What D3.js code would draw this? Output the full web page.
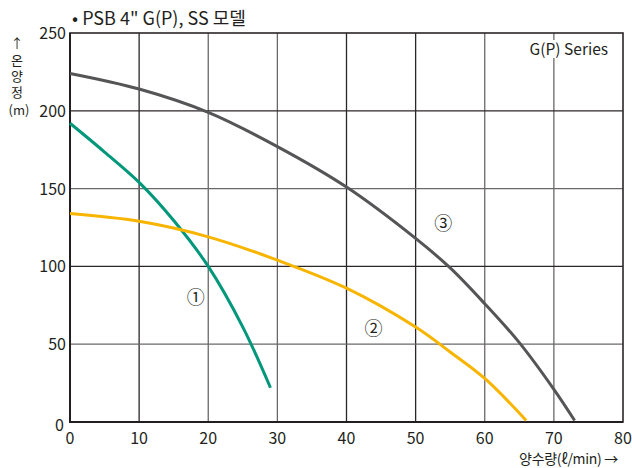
<!DOCTYPE html>
<html><head><meta charset="utf-8">
<script src="https://cdn.jsdelivr.net/npm/d3@7/dist/d3.min.js"></script>
<style>
body{margin:0;background:#fff;}
text{font-family:"Noto Sans CJK KR","Noto Sans",sans-serif;fill:#231f20;}
.vert{writing-mode:vertical-rl;text-orientation:upright;}
</style></head>
<body>
<svg id="chart" width="632" height="468"></svg>
<script>
const xTicks = [0,10,20,30,40,50,60,70,80];
const yTicks = [0,50,100,150,200,250];
const curve1 = [[0,192],[5,173.5],[10,154],[15,129.5],[20,100],[25,61],[29,22]];
const curve2 = [[0,134],[10,129],[20,119],[30,104],[40,86],[50,61],[55,45],[60,28],[66,1]];
const curve3 = [[0,224],[10,214],[20,199],[30,177],[40,151],[50,118],[55,99],[60,76],[65,51],[70,21],[73,1]];
const seriesColors = ["#00977a","#f7b500","#555557"];
const seriesLabels = ["①","②","③"];
const labelPos = [[18.2,80],[43.9,60],[54,127]];
const title = "• PSB 4\" G(P), SS 모델";
const seriesName = "G(P) Series";
const xLabel = "양수량(ℓ/min) →";
const yLabelMain = "↑온양정";
const yLabelUnit = "(m)";

const svg = d3.select("#chart");
const L=70,R=623,T=33,B=422;
const x = d3.scaleLinear().domain([0,80]).range([L,R]);
const y = d3.scaleLinear().domain([0,250]).range([B,T]);

// grid
const g = svg.append("g");
g.selectAll(".vx").data(xTicks.filter(d=>d>0&&d<80)).join("line")
 .attr("x1",d=>x(d)).attr("x2",d=>x(d)).attr("y1",T).attr("y2",B)
 .attr("stroke",(d,i)=>[10,40,50].includes(d)?"#2b2627":"#6b6869").attr("stroke-width",1.3);
g.selectAll(".hy").data(yTicks.filter(d=>d>0&&d<250)).join("line")
 .attr("y1",d=>y(d)).attr("y2",d=>y(d)).attr("x1",L).attr("x2",R)
 .attr("stroke",d=>[100,200].includes(d)?"#2b2627":"#6b6869").attr("stroke-width",1.3);

// series name with white background
svg.append("rect").attr("x",528).attr("y",40).attr("width",82).attr("height",18).attr("fill","#fff");
svg.append("text").attr("x",608).attr("y",55).attr("text-anchor","end").attr("font-size",15.5).text(seriesName);

// frame
svg.append("rect").attr("x",L).attr("y",T).attr("width",R-L).attr("height",B-T)
 .attr("fill","none").attr("stroke","#2b2627").attr("stroke-width",1.6);
svg.append("line").attr("x1",L).attr("x2",L).attr("y1",T).attr("y2",B+1).attr("stroke","#231f20").attr("stroke-width",2);
svg.append("line").attr("x1",L).attr("x2",R).attr("y1",B).attr("y2",B).attr("stroke","#231f20").attr("stroke-width",2);

// axes labels
svg.selectAll(".yt").data(yTicks.filter(d=>d>0)).join("text")
 .attr("x",66).attr("y",d=>y(d)+6).attr("text-anchor","end").attr("font-size",16).text(d=>d);
svg.append("text").attr("x",64).attr("y",431).attr("text-anchor","end").attr("font-size",16).text("0");
svg.selectAll(".xt").data(xTicks).join("text")
 .attr("x",d=>x(d)).attr("y",444).attr("text-anchor","middle").attr("font-size",16).text(d=>d);

// curves
const line = d3.line().x(d=>x(d[0])).y(d=>y(d[1])).curve(d3.curveCatmullRom.alpha(0.5));
[curve1,curve2,curve3].forEach((c,i)=>{
  svg.append("path").attr("d",line(c)).attr("fill","none")
   .attr("stroke",seriesColors[i]).attr("stroke-width",3);
});
svg.selectAll(".sl").data(seriesLabels).join("text")
 .attr("x",(d,i)=>x(labelPos[i][0])).attr("y",(d,i)=>y(labelPos[i][1])+6)
 .attr("text-anchor","middle").attr("font-size",18).text(d=>d);

// title
svg.append("text").attr("x",72).attr("y",25).attr("font-size",18).text(title);
// x label
svg.append("text").attr("x",618).attr("y",464).attr("text-anchor","end").attr("font-size",14).attr("letter-spacing",-0.3).text(xLabel);
// y label: vertical stacked text
svg.append("text").attr("class","vert").attr("x",17).attr("y",37).attr("font-size",13).attr("letter-spacing",3.2).text(yLabelMain);
svg.append("text").attr("x",19).attr("y",115).attr("text-anchor","middle").attr("font-size",13).text(yLabelUnit);
</script>
</body></html>
